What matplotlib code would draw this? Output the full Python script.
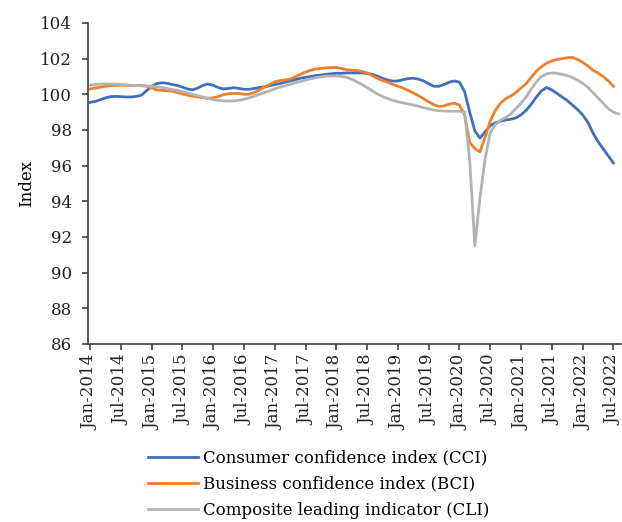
import matplotlib
matplotlib.use("Agg")
import matplotlib.pyplot as plt
import numpy as np

# monthly values, Jan-2014 onwards
cci = [99.55, 99.6, 99.7, 99.8, 99.87, 99.88, 99.87, 99.85, 99.85, 99.88, 99.95, 100.2,
       100.45, 100.6, 100.65, 100.62, 100.55, 100.5, 100.4, 100.3, 100.25, 100.35, 100.5, 100.58,
       100.5, 100.38, 100.3, 100.33, 100.37, 100.33, 100.28, 100.28, 100.33, 100.38, 100.42, 100.48,
       100.55, 100.6, 100.68, 100.75, 100.82, 100.9, 100.95, 101.0, 101.05, 101.08, 101.12, 101.15,
       101.18, 101.18, 101.2, 101.2, 101.2, 101.2, 101.17, 101.12, 101.02, 100.9, 100.8, 100.74,
       100.75, 100.82, 100.88, 100.9, 100.85, 100.75, 100.6, 100.45, 100.45, 100.55, 100.68, 100.75,
       100.68, 100.15, 99.0, 97.95, 97.55, 97.9, 98.25, 98.4, 98.5, 98.56, 98.6, 98.68,
       98.85, 99.1, 99.45, 99.85, 100.2, 100.38, 100.25, 100.05, 99.85, 99.65, 99.4, 99.15,
       98.85, 98.45, 97.85, 97.35, 96.95, 96.55, 96.15]

bci = [100.3, 100.35, 100.4, 100.45, 100.48, 100.5, 100.5, 100.5, 100.5, 100.5, 100.5, 100.45,
       100.35, 100.25, 100.22, 100.2, 100.18, 100.1, 100.02, 99.95, 99.9, 99.85, 99.8, 99.78,
       99.8, 99.88, 99.98, 100.03, 100.05, 100.05, 100.0, 100.0, 100.1, 100.25, 100.4, 100.55,
       100.7, 100.77, 100.8, 100.85, 100.98, 101.12, 101.25, 101.35, 101.42, 101.45, 101.48, 101.5,
       101.5, 101.45, 101.38, 101.35, 101.33, 101.28, 101.2, 101.05, 100.9, 100.78, 100.68, 100.56,
       100.45, 100.35, 100.22, 100.08, 99.92, 99.75, 99.58, 99.42, 99.32, 99.35, 99.45, 99.5,
       99.4, 98.85, 97.3, 96.95, 96.78, 97.6, 98.5, 99.1, 99.5, 99.75, 99.9, 100.1,
       100.35, 100.6, 100.95, 101.3, 101.55, 101.75, 101.87, 101.95, 102.0, 102.05, 102.07, 101.95,
       101.8, 101.6, 101.35, 101.2, 101.0, 100.75, 100.45]

cli = [100.52, 100.55, 100.57, 100.58, 100.58, 100.57, 100.55, 100.53, 100.5, 100.5, 100.48, 100.47,
       100.45, 100.42, 100.39, 100.33, 100.27, 100.22, 100.15, 100.08, 100.0, 99.92, 99.84, 99.77,
       99.7, 99.66, 99.63, 99.62, 99.63, 99.67, 99.72, 99.8, 99.9, 100.0, 100.1, 100.2,
       100.3, 100.4, 100.48, 100.56, 100.64, 100.72, 100.8, 100.87, 100.93, 100.98, 101.02, 101.03,
       101.03, 101.0, 100.95, 100.85, 100.7, 100.55, 100.38, 100.2, 100.02, 99.88, 99.76, 99.66,
       99.58, 99.52, 99.46, 99.4, 99.33, 99.25, 99.18, 99.12, 99.08, 99.06, 99.05, 99.05,
       99.05, 99.0, 96.3, 91.5, 94.2, 96.4, 97.85, 98.3, 98.55, 98.7, 98.9, 99.2,
       99.5, 99.85, 100.3, 100.7, 101.0, 101.15, 101.2, 101.18, 101.12, 101.05, 100.95, 100.8,
       100.62, 100.4, 100.1, 99.8, 99.5, 99.2, 99.0, 98.9]

tick_labels = []
for yr in range(2014, 2023):
    tick_labels += [f"Jan-{yr}", f"Jul-{yr}"]

plt.rcParams['font.family'] = ['DejaVu Serif']
plt.rcParams['font.size'] = 12

fig = plt.figure(figsize=(6.22, 5.22), dpi=100)
ax = fig.add_axes([0.1415, 0.341, 0.857, 0.615])

ax.plot(np.arange(len(cci)), cci, color='#3f70b9', lw=2.0, label='Consumer confidence index (CCI)')
ax.plot(np.arange(len(bci)), bci, color='#f07f2d', lw=2.0, label='Business confidence index (BCI)')
ax.plot(np.arange(len(cli)), cli, color='#b3b3b3', lw=2.0, label='Composite leading indicator (CLI)')

ax.set_ylim(86, 104)
ax.set_yticks(np.arange(86, 105, 2))
ax.set_xlim(-0.4, 103.5)
ax.set_xticks(np.arange(0, 6 * len(tick_labels), 6))
ax.set_xticklabels(tick_labels, rotation=90)
ax.set_ylabel('Index', labelpad=4)

for s in ['top', 'right']:
    ax.spines[s].set_visible(False)
for s in ['left', 'bottom']:
    ax.spines[s].set_color('#404040')
    ax.spines[s].set_linewidth(1.2)
ax.tick_params(colors='#404040', labelcolor='#222222', length=4.5, width=1.2)
ax.tick_params(axis='y', pad=7)
ax.tick_params(axis='x', pad=3)

fig.legend(loc='upper left', bbox_to_anchor=(0.224, 0.155), frameon=False,
           handlelength=3.0, handletextpad=0.3, labelspacing=0.55, borderpad=0)

fig.savefig('out.png', dpi=100)
